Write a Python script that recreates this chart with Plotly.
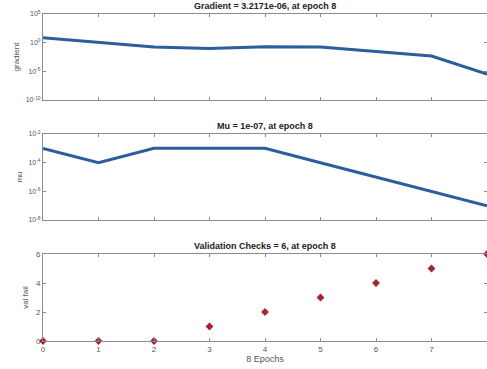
import plotly.graph_objects as go

epochs = [0, 1, 2, 3, 4, 5, 6, 7, 8]
gradient = [7.0, 1.0, 0.17, 0.1, 0.2, 0.17, 0.027, 0.0047, 3.2171e-06]
mu = [1e-3, 1e-4, 1e-3, 1e-3, 1e-3, 1e-4, 1e-5, 1e-6, 1e-7]
val_fail = [0, 0, 0, 1, 2, 3, 4, 5, 6]

titles = ["Gradient = 3.2171e-06, at epoch 8",
          "Mu = 1e-07, at epoch 8",
          "Validation Checks = 6, at epoch 8"]
x_tick_vals = [0, 1, 2, 3, 4, 5, 6, 7]
grad_ticks = [-10, -5, 0, 5]
mu_ticks = [-8, -6, -4, -2]
vf_ticks = [0, 2, 4, 6]

line_color = "#2c5d9c"
marker_color = "#a3232e"
axis_color = "#8c8c8c"
text_color = "#555555"
font = "Liberation Sans, Arial, sans-serif"

fig = go.Figure()
fig.add_trace(go.Scatter(x=epochs, y=gradient, mode="lines",
                         line=dict(color=line_color, width=3),
                         xaxis="x", yaxis="y", showlegend=False))
fig.add_trace(go.Scatter(x=epochs, y=mu, mode="lines",
                         line=dict(color=line_color, width=3),
                         xaxis="x2", yaxis="y2", showlegend=False))
fig.add_trace(go.Scatter(x=epochs, y=val_fail, mode="markers",
                         marker=dict(symbol="diamond", color=marker_color, size=6),
                         xaxis="x3", yaxis="y3", showlegend=False, cliponaxis=False))

domains = [[0.737, 1.0], [0.370, 0.633], [0.0, 0.266]]

common_x = dict(range=[0, 8], tickvals=x_tick_vals, ticks="inside", ticklen=3,
                tickcolor=axis_color, showline=True, linecolor=axis_color,
                linewidth=1, mirror="ticks", showgrid=False, zeroline=False,
                tickfont=dict(size=8, color=text_color, family=font))
common_y = dict(ticks="inside", ticklen=3, tickcolor=axis_color, showline=True,
                linecolor=axis_color, linewidth=1, mirror="ticks", showgrid=False,
                zeroline=False)
log_font = dict(size=7, color=text_color, family=font)
lin_font = dict(size=8, color=text_color, family=font)

fig.update_layout(
    width=487, height=369,
    margin=dict(l=43, r=0, t=14, b=28),
    paper_bgcolor="white", plot_bgcolor="white",
    font=dict(family=font, color=text_color),
    xaxis=dict(**common_x, domain=[0, 1], anchor="y", showticklabels=False),
    xaxis2=dict(**common_x, domain=[0, 1], anchor="y2", showticklabels=False),
    xaxis3=dict(**common_x, domain=[0, 1], anchor="y3",
                title=dict(text="8 Epochs", font=dict(size=9, color=text_color), standoff=2)),
    yaxis=dict(**common_y, type="log", domain=domains[0], range=[-10, 5],
               tickvals=[10 ** v for v in grad_ticks],
               ticktext=["10<sup>%d</sup>" % v for v in grad_ticks], tickfont=log_font,
               title=dict(text="gradient", font=dict(size=8, color=text_color), standoff=4)),
    yaxis2=dict(**common_y, type="log", domain=domains[1], range=[-8, -2],
                tickvals=[10 ** v for v in mu_ticks],
                ticktext=["10<sup>%d</sup>" % v for v in mu_ticks], tickfont=log_font,
                title=dict(text="mu", font=dict(size=8, color=text_color), standoff=4)),
    yaxis3=dict(**common_y, domain=domains[2], range=[0, 6], tickvals=vf_ticks,
                tickfont=lin_font,
                title=dict(text="val fail", font=dict(size=8, color=text_color), standoff=6)),
)

for title, dom in zip(titles, domains):
    fig.add_annotation(text="<b>%s</b>" % title, xref="paper", yref="paper",
                       x=0.5, y=dom[1], yanchor="bottom", xanchor="center",
                       yshift=1, showarrow=False,
                       font=dict(size=9, color="#222222", family=font))

fig.write_html("out.html", config={"displayModeBar": False},
               post_script="document.body.style.margin='0';document.body.style.overflow='hidden';")
